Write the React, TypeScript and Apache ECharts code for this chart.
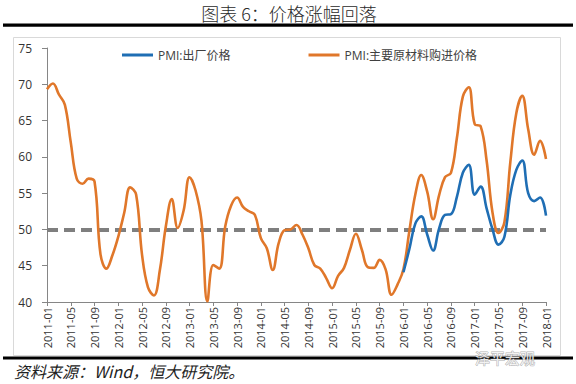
import React, { useEffect, useRef } from "react";
import * as echarts from "echarts";

// Categories: monthly from 2011-01 to 2018-01
const months: string[] = [];
for (let y = 2011; y <= 2018; y++) {
  for (let m = 1; m <= 12; m++) {
    if (y === 2018 && m > 1) break;
    months.push(`${y}-${m < 10 ? "0" + m : m}`);
  }
}

const seriesNames = ["PMI:出厂价格", "PMI:主要原材料购进价格"];

// PMI: 主要原材料购进价格 (2011-01 .. 2018-01)
const inputPrice: number[] = [
  69.3, 70.1, 68.6, 67.2, 62.0, 57.0, 56.3, 57.0, 56.6, 46.6, 44.6, 46.4,
  49.0, 52.3, 55.8, 54.8, 46.5, 42.0, 40.9, 44.4, 50.4, 54.2, 50.2, 52.6,
  57.2, 55.4, 51.2, 40.1, 45.1, 44.6, 50.4, 53.3, 54.4, 53.1, 52.5, 52.0,
  48.8, 47.4, 44.4, 48.1, 49.9, 50.0, 50.6, 49.3, 47.4, 45.1, 44.6, 43.3,
  41.9, 43.6, 44.7, 47.2, 49.4, 47.2, 44.8, 44.7, 45.8, 44.5, 41.0, 42.4,
  44.5, 49.8, 54.8, 57.5, 55.2, 51.4, 54.7, 57.2, 57.8, 62.6, 68.3, 69.6,
  64.5, 64.2, 59.5, 52.3, 49.5, 51.0, 59.3, 66.0, 68.4, 63.8, 60.3, 62.2,
  59.7,
];

// PMI: 出厂价格 (starts 2016-01)
const outputPriceFrom2016: number[] = [
  44.1, 47.3, 50.8, 51.8, 49.3, 47.1, 50.1, 52.0, 52.1, 54.5, 57.8, 58.9,
  54.8, 55.9, 52.9, 50.0, 47.9, 49.0, 54.8, 58.2, 59.5, 55.0, 53.9, 54.4,
  51.9,
];

const referenceLevel = 50;
const yMin = 40;
const yMax = 75;
const yStep = 5;

const titleText = "图表 6：价格涨幅回落";
const sourceText = "资料来源：Wind，恒大研究院。";
const watermarkText = "泽平宏观";

export default function App() {
  const ref = useRef<HTMLDivElement>(null);

  useEffect(() => {
    if (!ref.current) return;
    const chart = echarts.init(ref.current, undefined, { renderer: "svg" });
    const pad = months.length - outputPriceFrom2016.length;
    const outputPrice: (number | null)[] = [
      ...new Array(pad).fill(null),
      ...outputPriceFrom2016,
    ];
    const labelFont = "'Open Sans', 'Noto Sans CJK SC', sans-serif";
    const axisColor = "#868686";

    chart.setOption({
      animation: false,
      backgroundColor: "#ffffff",
      grid: { left: 47, right: 30, top: 48, bottom: 82, containLabel: false },
      legend: {
        top: 44,
        left: 117,
        icon: "rect",
        itemWidth: 31,
        itemHeight: 3,
        itemGap: 78,
        textStyle: { fontSize: 12, color: "#404040", fontFamily: labelFont },
        data: seriesNames,
      },
      xAxis: {
        type: "category",
        data: months,
        boundaryGap: false,
        axisLine: { lineStyle: { color: axisColor, width: 1 } },
        axisTick: { interval: 3, length: 4, lineStyle: { color: axisColor } },
        axisLabel: {
          interval: 3,
          rotate: 90,
          fontSize: 11,
          color: "#333",
          margin: 5,
          fontFamily: labelFont,
        },
        splitLine: { show: false },
      },
      yAxis: {
        type: "value",
        min: yMin,
        max: yMax,
        interval: yStep,
        splitLine: { show: false },
        axisLine: { show: true, lineStyle: { color: axisColor, width: 1 } },
        axisTick: { show: true, length: 5, lineStyle: { color: axisColor } },
        axisLabel: { fontSize: 12, color: "#333", margin: 15, fontFamily: labelFont },
      },
      series: [
        {
          name: seriesNames[0],
          type: "line",
          data: outputPrice,
          smooth: 0.4,
          symbol: "none",
          connectNulls: false,
          lineStyle: { color: "#1F6EB4", width: 2.6 },
          itemStyle: { color: "#1F6EB4" },
          z: 3,
          markLine: {
            silent: true,
            symbol: "none",
            label: { show: false },
            lineStyle: { color: "#7f7f7f", type: [11, 6], width: 4 },
            data: [{ yAxis: referenceLevel }],
            z: 1,
          },
        },
        {
          name: seriesNames[1],
          type: "line",
          data: inputPrice,
          smooth: 0.4,
          symbol: "none",
          lineStyle: { color: "#E0772A", width: 2.6 },
          itemStyle: { color: "#E0772A" },
          z: 2,
        },
      ],
      graphic: [
        {
          type: "text",
          x: 289,
          y: 13,
          style: {
            text: titleText,
            fontSize: 18,
            fontWeight: 300,
            fontFamily: "'Noto Sans CJK SC', sans-serif",
            fill: "#2a2a2a",
            align: "center",
            verticalAlign: "middle",
          },
        },
        { type: "rect", shape: { x: 3, y: 23.5, width: 570, height: 3.2 }, style: { fill: "#000" } },
        {
          type: "rect",
          shape: { x: 13.5, y: 37.5, width: 547, height: 318 },
          style: { fill: "none", stroke: "#d9d9d9", lineWidth: 1 },
          z: -1,
        },
        { type: "rect", shape: { x: 3, y: 356.5, width: 570, height: 3 }, style: { fill: "#000" } },
        {
          type: "text",
          x: 14,
          y: 371,
          style: {
            text: sourceText,
            fontSize: 16,
            fontStyle: "italic",
            fontFamily: "'Noto Sans CJK SC', sans-serif",
            fill: "#222",
            align: "left",
            verticalAlign: "middle",
          },
        },
        {
          type: "text",
          x: 505,
          y: 357,
          style: {
            text: watermarkText,
            fontSize: 15,
            fontFamily: "'Noto Sans CJK SC', sans-serif",
            fill: "rgba(255,255,255,0.85)",
            stroke: "rgba(120,120,120,0.6)",
            lineWidth: 1,
            align: "center",
            verticalAlign: "middle",
          },
          z: 10,
        },
      ],
    });
    return () => chart.dispose();
  }, []);

  return (
    <div
      ref={ref}
      style={{ position: "fixed", left: 0, top: 0, width: 576, height: 384, background: "#fff" }}
    />
  );
}
